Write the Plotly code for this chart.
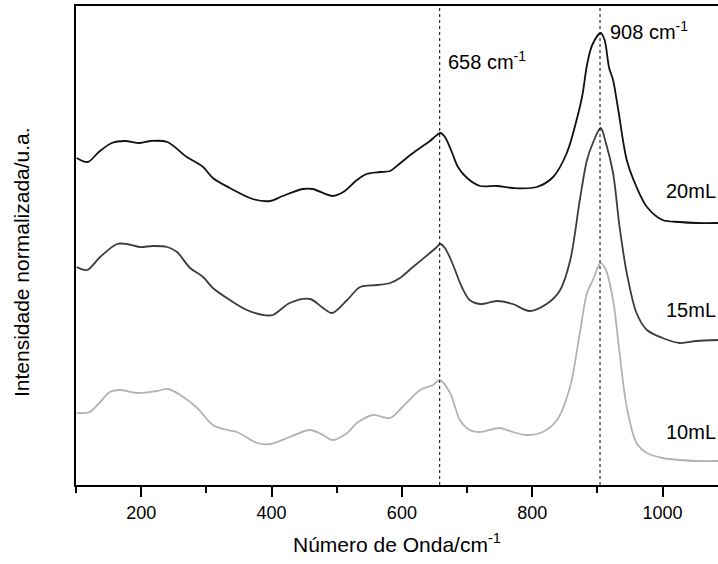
import plotly.graph_objects as go

# Raman-like spectra (x: wavenumber / cm-1, y: offset normalized intensity, a.u.)
x_20 = [101, 118, 135, 155, 175, 198, 215, 240, 270, 295, 310, 336, 371, 398, 417, 448, 463, 494, 510, 531,
        546, 566, 582, 594, 617, 643, 652, 659, 666, 676, 686, 700, 720, 746, 770, 807, 832, 853, 870, 877,
        884, 892, 905, 911, 918, 924, 932, 945, 960, 976, 1000, 1026, 1052, 1085]
y_20 = [329, 325, 335, 344, 346, 344, 346, 345, 330, 320, 309, 299, 288, 286, 291, 298, 298, 291, 295, 307,
        313, 315, 316, 322, 334, 346, 351, 354, 350, 336, 320, 309, 301, 301, 299, 300, 310, 334, 372, 392,
        422, 442, 454, 447, 419, 407, 377, 327, 300, 280, 267, 265, 264, 264]

x_15 = [101, 117, 137, 163, 178, 198, 218, 240, 255, 275, 295, 310, 336, 362, 387, 402, 428, 459, 479, 493,
        516, 536, 562, 582, 597, 617, 643, 652, 659, 666, 676, 692, 704, 720, 746, 770, 796, 822, 842, 858,
        873, 884, 893, 905, 913, 924, 934, 945, 960, 976, 1000, 1026, 1052, 1085]
y_15 = [220, 217, 230, 243, 243, 240, 241, 240, 235, 219, 210, 199, 187, 177, 172, 172, 184, 188, 179, 174,
        187, 200, 202, 204, 209, 220, 234, 239, 243, 239, 226, 200, 187, 183, 186, 183, 176, 183, 196, 226,
        287, 327, 344, 359, 344, 314, 260, 214, 174, 157, 149, 144, 146, 147]

x_10 = [101, 121, 137, 152, 167, 194, 224, 241, 260, 286, 310, 332, 347, 378, 398, 428, 459, 479, 494, 516,
        531, 556, 582, 601, 628, 648, 658, 674, 689, 704, 720, 750, 770, 792, 816, 838, 858, 873, 884, 893,
        905, 913, 924, 934, 945, 960, 976, 1000, 1026, 1052, 1085]
y_10 = [74, 75, 85, 95, 97, 94, 96, 98, 92, 79, 62, 57, 55, 44, 43, 50, 57, 52, 47, 54,
        64, 72, 69, 80, 97, 102, 107, 94, 67, 57, 55, 59, 55, 52, 55, 67, 100, 154, 194, 207,
        224, 217, 187, 134, 80, 44, 34, 29, 27, 26, 26]

series_names = ["20mL", "15mL", "10mL"]
series_colors = ["#111111", "#3c3c3c", "#b3b3b3"]
label_y = [296, 177, 55]

peak_positions = [658, 904]
peak_labels = ["658 cm<sup>-1</sup>", "908 cm<sup>-1</sup>"]
peak_label_x = [668, 916]
peak_label_y = [427, 457]

x_ticks = [200, 400, 600, 800, 1000]

FONT = "Liberation Sans, Arial, sans-serif"

fig = go.Figure()
for xs, ys, name, col in zip([x_20, x_15, x_10], [y_20, y_15, y_10], series_names, series_colors):
    fig.add_trace(go.Scatter(x=xs, y=ys, mode="lines", name=name,
                             line=dict(color=col, width=1.8, shape="spline", smoothing=0.9),
                             showlegend=False, hoverinfo="skip"))

for px in peak_positions:
    fig.add_shape(type="line", x0=px, x1=px, y0=0, y1=1, xref="x", yref="y domain",
                  line=dict(color="black", width=1, dash="dot"))

for txt, ax_, ay_ in zip(peak_labels, peak_label_x, peak_label_y):
    fig.add_annotation(x=ax_, y=ay_, text=txt, showarrow=False, xanchor="left", yanchor="middle",
                       font=dict(family=FONT, size=20, color="black"))

for name, ly in zip(series_names, label_y):
    fig.add_annotation(x=1085, y=ly, text=name, showarrow=False, xanchor="right", yanchor="middle",
                       font=dict(family=FONT, size=20, color="black"))

fig.add_annotation(x=-0.086, y=0.465, xref="paper", yref="paper", text="Intensidade normalizada/u.a.",
                   textangle=-90, showarrow=False, xanchor="center", yanchor="middle",
                   font=dict(family=FONT, size=21, color="black"))

fig.update_layout(
    width=718, height=564,
    margin=dict(l=76, r=0, t=6, b=79),
    plot_bgcolor="white", paper_bgcolor="white",
    font=dict(family=FONT, color="black"),
    xaxis=dict(range=[100, 1085], tickvals=x_ticks, ticks="outside", ticklen=10, tickwidth=2,
               tickcolor="black", showline=True, linecolor="black", linewidth=2, mirror=True,
               showgrid=False, zeroline=False, tickfont=dict(size=18, family=FONT),
               minor=dict(dtick=200, tick0=100, ticks="outside", ticklen=6, tickwidth=2, tickcolor="black"),
               title=dict(text="Número de Onda/cm<sup>-1</sup>", font=dict(size=21, family=FONT), standoff=16)),
    yaxis=dict(range=[2, 481], showticklabels=False, ticks="", showline=True, linecolor="black",
               linewidth=2, showgrid=False, zeroline=False),
)

fig.write_html("out.html", config={"displayModeBar": False},
               post_script="document.body.style.margin='0';document.body.style.overflow='hidden';")
